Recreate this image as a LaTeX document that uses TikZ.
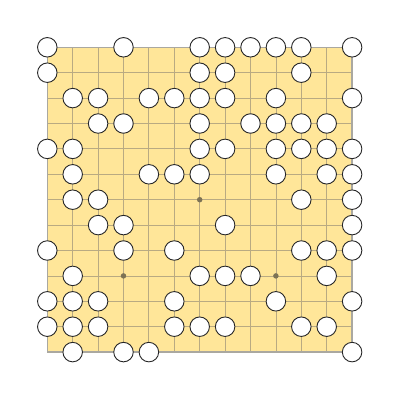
\documentclass[tikz,border=0pt]{standalone}
\definecolor{boardfill}{RGB}{255,230,153}
\definecolor{gridc}{RGB}{185,170,130}
\definecolor{edgec}{RGB}{170,168,160}
\definecolor{hoshic}{RGB}{125,115,85}
\begin{document}
\begin{tikzpicture}[x=25.4pt,y=-25.4pt,
  stone/.style={circle,draw=black!85,fill=white,line width=0.9pt,minimum size=19.5pt,inner sep=0pt},
  gridline/.style={draw=gridc,line width=0.8pt},
  boardedge/.style={draw=edgec,line width=1.3pt},
  hoshi/.style={circle,fill=hoshic,minimum size=5.5pt,inner sep=0pt}]
\useasboundingbox (-1.862,-1.862) rectangle ({12+(402-352.1)/25.4},{12+(402-352.1)/25.4});
\fill[white] (-1.862,-1.862) rectangle ({12+(402-352.1)/25.4},{12+(402-352.1)/25.4});
\fill[boardfill] (0,0) rectangle (12,12);
\foreach \i in {1,...,11} {
  \draw[gridline] (\i,0) -- (\i,12);
  \draw[gridline] (0,\i) -- (12,\i);
}
\draw[boardedge] (0,0) rectangle (12,12);
\foreach \c/\r [count=\k] in {3/3,9/3,6/6,3/9,9/9} {
  \node[hoshi] (h\k) at (\c,\r) {};
}
\foreach \c/\r [count=\k] in {
  0/0,3/0,6/0,7/0,8/0,9/0,10/0,12/0,
  0/1,6/1,7/1,10/1,
  1/2,2/2,4/2,5/2,6/2,7/2,9/2,12/2,
  2/3,3/3,6/3,8/3,9/3,10/3,11/3,
  0/4,1/4,6/4,7/4,9/4,10/4,11/4,12/4,
  1/5,4/5,5/5,6/5,9/5,11/5,12/5,
  1/6,2/6,10/6,12/6,
  2/7,3/7,7/7,12/7,
  0/8,3/8,5/8,10/8,11/8,12/8,
  1/9,6/9,7/9,8/9,11/9,
  0/10,1/10,2/10,5/10,9/10,12/10,
  0/11,1/11,2/11,5/11,6/11,7/11,10/11,11/11,
  1/12,3/12,4/12,12/12} {
  \node[stone] (s\k) at (\c,\r) {};
}
\end{tikzpicture}
\end{document}
